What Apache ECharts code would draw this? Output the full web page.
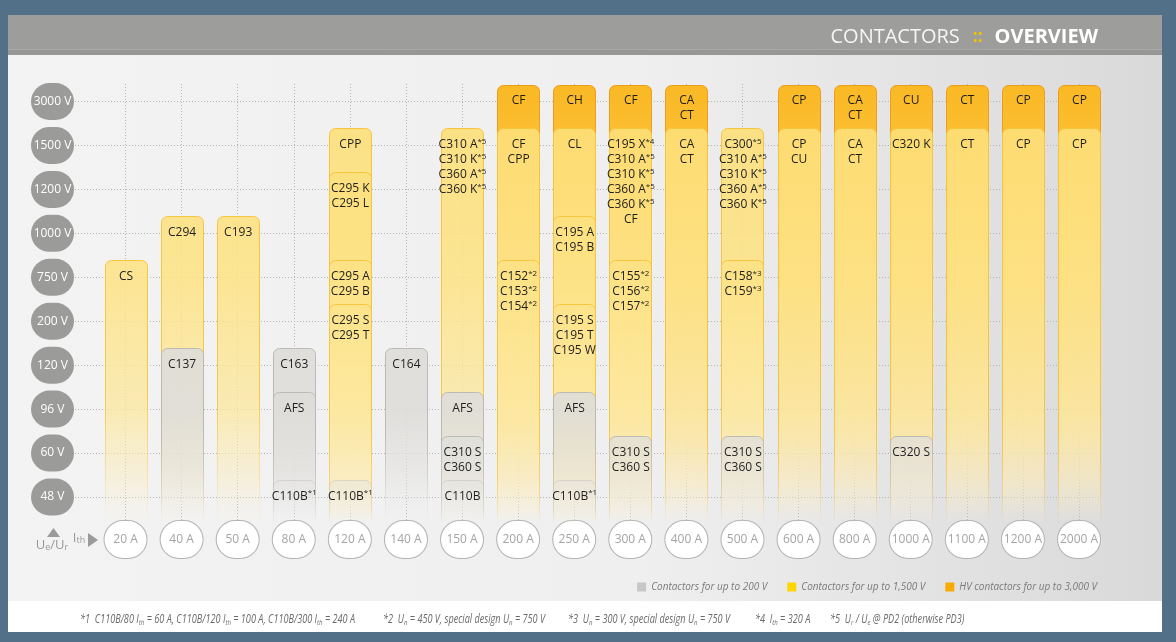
<!DOCTYPE html>
<html>
<head>
<meta charset="utf-8">
<style>
  html, body { margin: 0; padding: 0; background: #537089; }
  #main { width: 1176px; height: 642px; }
</style>
<script src="https://cdn.jsdelivr.net/npm/echarts@6/dist/echarts.min.js"></script>
</head>
<body>
<div id="main"></div>
<script>
// rated current (x) and voltage levels (y, bottom -> top)
var currents = ['20 A', '40 A', '50 A', '80 A', '120 A', '140 A', '150 A', '200 A', '250 A',
  '300 A', '400 A', '500 A', '600 A', '800 A', '1000 A', '1100 A', '1200 A', '2000 A'];
var voltages = ['48 V', '60 V', '96 V', '120 V', '200 V', '750 V', '1000 V', '1200 V', '1500 V', '3000 V'];

// [current, top voltage, models]  ({s|..} = footnote mark)
var hvBoxes = [
  ['200 A', '3000 V', 'CF'],
  ['250 A', '3000 V', 'CH'],
  ['300 A', '3000 V', 'CF'],
  ['400 A', '3000 V', 'CA\nCT'],
  ['600 A', '3000 V', 'CP'],
  ['800 A', '3000 V', 'CA\nCT'],
  ['1000 A', '3000 V', 'CU'],
  ['1100 A', '3000 V', 'CT'],
  ['1200 A', '3000 V', 'CP'],
  ['2000 A', '3000 V', 'CP']
];
var midBoxes = [
  ['120 A', '1500 V', 'CPP'],
  ['150 A', '1500 V', 'C310 A{s|*5}\nC310 K{s|*5}\nC360 A{s|*5}\nC360 K{s|*5}'],
  ['200 A', '1500 V', 'CF\nCPP'],
  ['250 A', '1500 V', 'CL'],
  ['300 A', '1500 V', 'C195 X{s|*4}\nC310 A{s|*5}\nC310 K{s|*5}\nC360 A{s|*5}\nC360 K{s|*5}\nCF'],
  ['400 A', '1500 V', 'CA\nCT'],
  ['500 A', '1500 V', 'C300{s|*5}\nC310 A{s|*5}\nC310 K{s|*5}\nC360 A{s|*5}\nC360 K{s|*5}'],
  ['600 A', '1500 V', 'CP\nCU'],
  ['800 A', '1500 V', 'CA\nCT'],
  ['1000 A', '1500 V', 'C320 K'],
  ['1100 A', '1500 V', 'CT'],
  ['1200 A', '1500 V', 'CP'],
  ['2000 A', '1500 V', 'CP'],
  ['120 A', '1200 V', 'C295 K\nC295 L'],
  ['40 A', '1000 V', 'C294'],
  ['50 A', '1000 V', 'C193'],
  ['250 A', '1000 V', 'C195 A\nC195 B'],
  ['20 A', '750 V', 'CS'],
  ['120 A', '750 V', 'C295 A\nC295 B'],
  ['200 A', '750 V', 'C152{s|*2}\nC153{s|*2}\nC154{s|*2}'],
  ['300 A', '750 V', 'C155{s|*2}\nC156{s|*2}\nC157{s|*2}'],
  ['500 A', '750 V', 'C158{s|*3}\nC159{s|*3}'],
  ['120 A', '200 V', 'C295 S\nC295 T'],
  ['250 A', '200 V', 'C195 S\nC195 T\nC195 W']
];
var lowBoxes = [
  ['40 A', '120 V', 'C137'],
  ['80 A', '120 V', 'C163'],
  ['140 A', '120 V', 'C164'],
  ['80 A', '96 V', 'AFS'],
  ['150 A', '96 V', 'AFS'],
  ['250 A', '96 V', 'AFS'],
  ['150 A', '60 V', 'C310 S\nC360 S'],
  ['300 A', '60 V', 'C310 S\nC360 S'],
  ['500 A', '60 V', 'C310 S\nC360 S'],
  ['1000 A', '60 V', 'C320 S'],
  ['80 A', '48 V', 'C110B{s|*1}'],
  ['120 A', '48 V', 'C110B{s|*1}'],
  ['150 A', '48 V', 'C110B'],
  ['250 A', '48 V', 'C110B{s|*1}']
];

var seriesNames = ['Contactors for up to 200 V', 'Contactors for up to 1,500 V', 'HV contactors for up to 3,000 V'];

var footnotes = [
  '*1  C110B/80 I{b|th} = 60 A, C110B/120 I{b|th} = 100 A, C110B/300 I{b|th} = 240 A',
  '*2  U{b|n} = 450 V, special design U{b|n} = 750 V',
  '*3  U{b|n} = 300 V, special design U{b|n} = 750 V',
  '*4  I{b|th} = 320 A',
  '*5  U{b|r} / U{b|e} @ PD2 (otherwise PD3)'
];
var footnoteX = [80, 383, 568, 755, 830];

var FONT = 'Open Sans';

// column step / plot extent
var firstX = 125.5, lastX = 1079, step = (lastX - firstX) / 17;
var lineLeft = 75, lineRight = 1100;

var chart = echarts.init(document.getElementById('main'));

function toData(boxes) {
  return boxes.map(function (b) {
    return [currents.indexOf(b[0]), voltages.indexOf(b[1])];
  });
}

function boxRenderer(boxes, fillStops, strokeStops) {
  return function (params, api) {
    var xi = api.value(0);
    var p = api.coord([xi, api.value(1)]);
    var base = api.coord([xi, 0]);
    var colTop = api.coord([xi, voltages.length - 1])[1] - 17;
    var w = Math.round(api.size([1, 0])[0] * 0.75);
    var top = Math.round(p[1] - 17) + 0.5;
    var bottom = base[1] + 26;
    var left = Math.round(p[0] - w / 2) + 0.5;
    function grad(stops) {
      return { type: 'linear', x: 0, y: colTop, x2: 0, y2: bottom, global: true,
        colorStops: stops.map(function (s) { return { offset: s[0], color: s[1] }; }) };
    }
    return {
      type: 'group',
      children: [{
        type: 'rect',
        shape: { x: left, y: top, width: w, height: bottom - top, r: [6, 6, 0, 0] },
        style: { fill: grad(fillStops), stroke: grad(strokeStops), lineWidth: 1 }
      }, {
        type: 'text',
        x: p[0] + 0.5,
        y: p[1] - 8,
        style: {
          text: boxes[params.dataIndex][2],
          fill: '#1e1e1e',
          fontFamily: FONT,
          fontSize: 12,
          lineHeight: 15,
          align: 'center',
          verticalAlign: 'top',
          rich: {
            s: { fill: '#1e1e1e', fontFamily: FONT, fontSize: 8, lineHeight: 10, verticalAlign: 'top' }
          }
        }
      }]
    };
  };
}

var option = {
  backgroundColor: '#537089',
  animation: false,
  title: {
    text: '{a|CONTACTORS}{b|::}{c|OVERVIEW}',
    right: 73,
    top: 19,
    textStyle: {
      fontWeight: 'normal',
      rich: {
        a: { fontFamily: FONT, fontSize: 20, fontWeight: 'normal', color: '#f6f6f6', lineHeight: 26 },
        b: { fontFamily: FONT, fontSize: 17, fontWeight: 'bold', color: '#f2c200', padding: [0, 12, 0, 13] },
        c: { fontFamily: FONT, fontSize: 20, fontWeight: 'bold', color: '#ffffff' }
      }
    }
  },
  legend: {
    data: seriesNames,
    right: 74,
    top: 577,
    icon: 'rect',
    itemWidth: 9,
    itemHeight: 9,
    itemGap: 20,
    selectedMode: false,
    textStyle: { fontFamily: FONT, fontStyle: 'italic', fontSize: 10, color: '#7a7a7a' }
  },
  grid: [
    { left: lineLeft, right: 1176 - lineRight, top: 101.5, bottom: 642 - 497 },
    { left: firstX, right: 1176 - lastX, top: 84, bottom: 642 - 520 }
  ],
  xAxis: [{
    gridIndex: 0,
    type: 'value',
    min: -(firstX - lineLeft) / step,
    max: (lineRight - firstX) / step,
    show: false
  }, {
    gridIndex: 1,
    type: 'category',
    data: currents,
    boundaryGap: false,
    axisLine: { show: false },
    axisTick: { show: false },
    splitLine: { show: true, lineStyle: { color: '#b4b4b4', type: [1, 2], width: 1 } },
    axisLabel: {
      interval: 0,
      margin: 1,
      formatter: function (v) { return '{v|' + v + '}'; },
      rich: {
        v: {
          width: 42, height: 37, lineHeight: 37, align: 'center',
          backgroundColor: '#ffffff', borderColor: '#b3b3b3', borderWidth: 1, borderRadius: 19,
          color: '#a4a4a4', fontFamily: FONT, fontSize: 12
        }
      }
    }
  }],
  yAxis: [{
    gridIndex: 0,
    type: 'category',
    data: voltages,
    boundaryGap: false,
    axisLine: { show: false },
    axisTick: { show: false },
    splitLine: { show: true, lineStyle: { color: '#b4b4b4', type: [1, 2], width: 1 } },
    axisLabel: {
      interval: 0,
      margin: 1,
      formatter: function (v) { return '{v|' + v + '}'; },
      rich: {
        v: {
          width: 43, height: 37, lineHeight: 37, align: 'center',
          backgroundColor: '#9b9b99', borderRadius: 19,
          color: '#ffffff', fontFamily: FONT, fontSize: 12
        }
      }
    }
  }, {
    gridIndex: 1,
    type: 'value',
    show: false
  }],
  graphic: [
    { type: 'rect', z: -10, shape: { x: 8, y: 15, width: 1154, height: 617 },
      style: { fill: new echarts.graphic.LinearGradient(0, 0, 1, 0, [
        { offset: 0, color: '#f3f3f3' }, { offset: 0.55, color: '#efefef' }, { offset: 1, color: '#d9d9d9' }]) } },
    { type: 'rect', z: -9, shape: { x: 8, y: 15, width: 1154, height: 40 }, style: { fill: '#9d9d9b' } },
    { type: 'rect', z: -9, shape: { x: 8, y: 49, width: 1154, height: 1 }, style: { fill: '#a9a9a7' } },
    { type: 'rect', z: -9, shape: { x: 8, y: 50, width: 1154, height: 5 }, style: { fill: '#979795' } },
    { type: 'rect', z: -9, shape: { x: 8, y: 601, width: 1154, height: 31 }, style: { fill: '#ffffff' } },
    { type: 'polygon', z: 10, shape: { points: [[47, 537], [60, 537], [53.5, 528]] }, style: { fill: '#9a9a9a' } },
    { type: 'polygon', z: 10, shape: { points: [[88, 533], [88, 547], [98, 540]] }, style: { fill: '#9a9a9a' } },
    { type: 'text', z: 10, x: 52, y: 545, style: {
      text: 'U{b|e}/U{b|r}', fill: '#9a9a9a', fontFamily: FONT, fontSize: 13,
      textAlign: 'center', textVerticalAlign: 'middle',
      rich: { b: { fill: '#9a9a9a', fontFamily: FONT, fontSize: 9, verticalAlign: 'bottom', lineHeight: 12 } } } },
    { type: 'text', z: 10, x: 79, y: 538, style: {
      text: 'I{b|th}', fill: '#9a9a9a', fontFamily: FONT, fontSize: 13,
      textAlign: 'center', textVerticalAlign: 'middle',
      rich: { b: { fill: '#9a9a9a', fontFamily: FONT, fontSize: 9, verticalAlign: 'bottom', lineHeight: 12 } } } }
  ].concat(footnotes.map(function (t, i) {
    return { type: 'text', z: 10, x: footnoteX[i], y: 620, scaleX: 0.76, style: {
      text: t, fill: '#6a6a6a', fontFamily: FONT, fontStyle: 'italic', fontSize: 12,
      textAlign: 'left', textVerticalAlign: 'middle',
      rich: { b: { fill: '#6a6a6a', fontFamily: FONT, fontStyle: 'italic', fontSize: 8, verticalAlign: 'bottom', lineHeight: 14 } } } };
  })),
  series: [{
    name: seriesNames[2],
    type: 'custom',
    xAxisIndex: 0,
    yAxisIndex: 0,
    clip: false,
    itemStyle: { color: '#f8aa00' },
    renderItem: boxRenderer(hvBoxes,
      [[0, 'rgba(250,184,36,1)'], [0.1, 'rgba(251,190,48,1)'], [0.45, 'rgba(252,205,90,0.9)'], [0.8, 'rgba(250,222,150,0.7)'], [1, 'rgba(250,235,200,0)']],
      [[0, 'rgba(238,156,28,1)'], [0.75, 'rgba(238,170,40,0.9)'], [1, 'rgba(238,170,40,0)']]),
    data: toData(hvBoxes)
  }, {
    name: seriesNames[1],
    type: 'custom',
    xAxisIndex: 0,
    yAxisIndex: 0,
    clip: false,
    itemStyle: { color: '#ffd500' },
    renderItem: boxRenderer(midBoxes,
      [[0, 'rgba(253,222,116,0.9)'], [0.45, 'rgba(253,227,135,0.88)'], [0.75, 'rgba(252,232,160,0.75)'], [0.9, 'rgba(250,236,190,0.45)'], [1, 'rgba(250,240,210,0)']],
      [[0, 'rgba(247,196,60,1)'], [0.7, 'rgba(247,196,60,0.9)'], [1, 'rgba(247,196,60,0)']]),
    data: toData(midBoxes)
  }, {
    name: seriesNames[0],
    type: 'custom',
    xAxisIndex: 0,
    yAxisIndex: 0,
    clip: false,
    itemStyle: { color: '#c7c7c7' },
    renderItem: boxRenderer(lowBoxes,
      [[0, 'rgba(220,219,216,0.92)'], [0.75, 'rgba(222,221,218,0.9)'], [0.88, 'rgba(226,225,222,0.6)'], [1, 'rgba(235,235,235,0)']],
      [[0, 'rgba(184,182,178,1)'], [0.8, 'rgba(184,182,178,0.9)'], [1, 'rgba(190,190,190,0)']]),
    data: toData(lowBoxes)
  }]
};

chart.setOption(option);
</script>
</body>
</html>
